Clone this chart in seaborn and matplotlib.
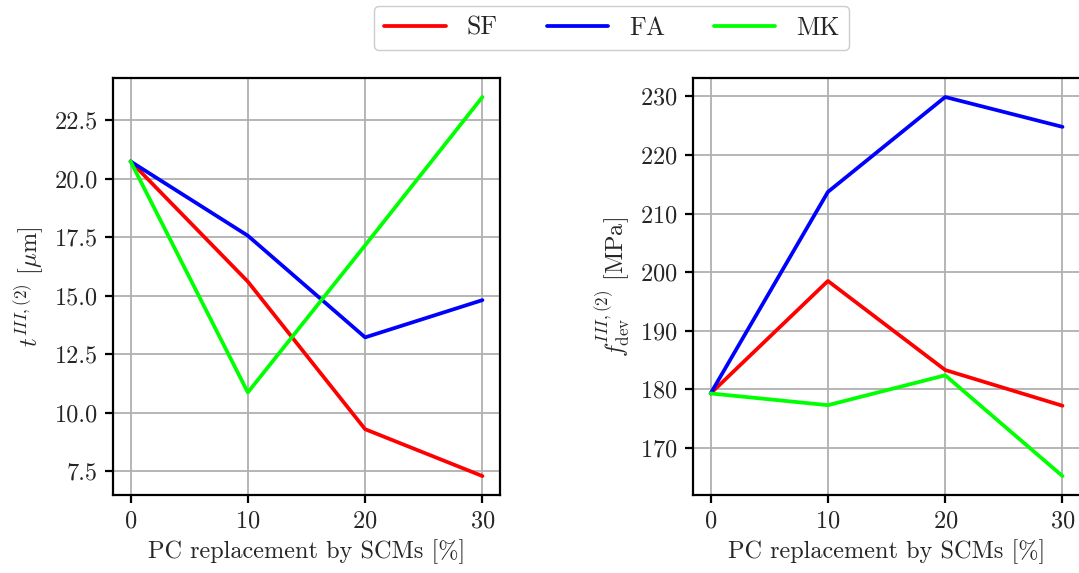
import pandas as pd
import seaborn as sns
import matplotlib.pyplot as plt
from matplotlib.ticker import FormatStrFormatter

replacement = [0, 10, 20, 30]
scms = ["SF", "FA", "MK"]

thickness_sf = [20.73, 15.6, 9.3, 7.3]
thickness_fa = [20.73, 17.56, 13.22, 14.81]
thickness_mk = [20.73, 10.87, 17.15, 23.48]

strength_sf = [179.3, 198.5, 183.3, 177.2]
strength_fa = [179.3, 213.7, 229.9, 224.8]
strength_mk = [179.3, 177.3, 182.4, 165.2]

thickness_ticks = [7.5, 10.0, 12.5, 15.0, 17.5, 20.0, 22.5]
strength_ticks = [170, 180, 190, 200, 210, 220, 230]

colors = {"SF": "red", "FA": "blue", "MK": "lime"}


def long_frame(sf, fa, mk):
    rows = []
    for name, vals in zip(scms, [sf, fa, mk]):
        for x, v in zip(replacement, vals):
            rows.append({"x": x, "y": v, "SCM": name})
    return pd.DataFrame(rows)


df_t = long_frame(thickness_sf, thickness_fa, thickness_mk)
df_f = long_frame(strength_sf, strength_fa, strength_mk)

sns.set_style("ticks")
plt.rcParams["font.family"] = ["cmr10", "DejaVu Serif"]
plt.rcParams["mathtext.fontset"] = "cm"
plt.rcParams["axes.formatter.use_mathtext"] = True
fs = 17.5

fig = plt.figure(figsize=(10.79, 5.73), dpi=100)
ax1 = fig.add_axes([0.1047, 0.1361, 0.3587, 0.7277])
ax2 = fig.add_axes([0.6423, 0.1361, 0.3587, 0.7277])

for ax, df in [(ax1, df_t), (ax2, df_f)]:
    sns.lineplot(data=df, x="x", y="y", hue="SCM", palette=colors,
                 linewidth=2.7, ax=ax, legend=(ax is ax1))
    ax.grid(True, color="#b0b0b0", linewidth=1.3)
    ax.set_axisbelow(True)
    ax.set_xticks(replacement)
    ax.tick_params(labelsize=fs, width=1.6, length=6, color="black", pad=5)
    for s in ax.spines.values():
        s.set_linewidth(1.6)
        s.set_color("black")
    ax.set_xlabel("PC replacement by SCMs [%]", fontsize=fs, labelpad=5)

ax1.set_yticks(thickness_ticks)
ax1.yaxis.set_major_formatter(FormatStrFormatter("%.1f"))
ax2.set_yticks(strength_ticks)

ax1.set_ylabel(r"$t^{III,(2)}$ [$\mu$m]", fontsize=fs, labelpad=6)
ax2.set_ylabel(r"$f^{III,(2)}_{\mathrm{dev}}$ [MPa]", fontsize=fs, labelpad=6)

handles, labels = ax1.get_legend_handles_labels()
ax1.get_legend().remove()
fig.legend(handles, labels, loc="upper center", bbox_to_anchor=(0.567, 1.012),
           ncol=3, frameon=True, fontsize=18.5, handlelength=2.4,
           columnspacing=1.9, handletextpad=0.8, borderpad=0.4,
           edgecolor="#cccccc", fancybox=True, framealpha=1)

fig.savefig("out.png", dpi=100)
